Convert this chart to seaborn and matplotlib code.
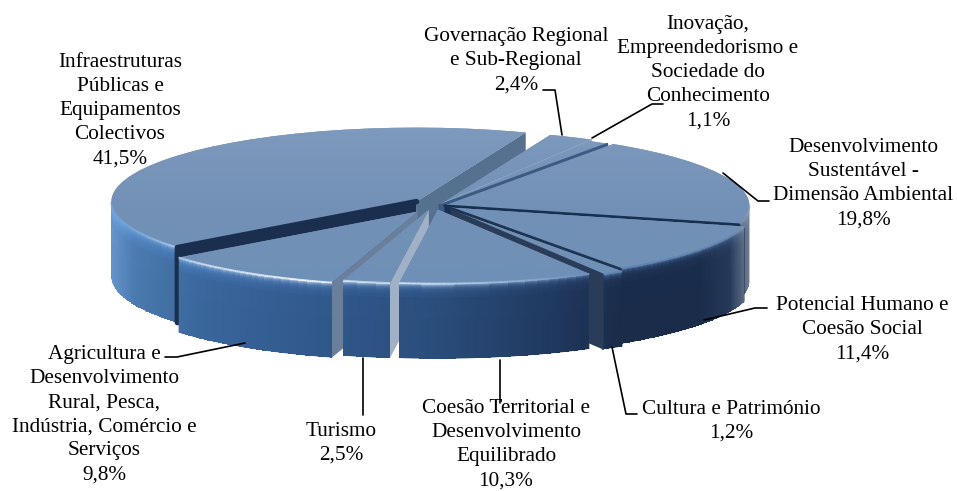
import numpy as np
import seaborn as sns
import matplotlib.pyplot as plt
from matplotlib.colors import to_rgb
from matplotlib.collections import LineCollection
from matplotlib.lines import Line2D

# valores do grafico (sentido horario a partir do topo)
categorias = ['Governação Regional\ne Sub-Regional\n2,4%',
              'Inovação,\nEmpreendedorismo e\nSociedade do\nConhecimento\n1,1%',
              'Desenvolvimento\nSustentável -\nDimensão Ambiental\n19,8%',
              'Potencial Humano e\nCoesão Social\n11,4%',
              'Cultura e Património\n1,2%',
              'Coesão Territorial e\nDesenvolvimento\nEquilibrado\n10,3%',
              'Turismo\n2,5%',
              'Agricultura e\nDesenvolvimento\nRural, Pesca,\nIndústria, Comércio e\nServiços\n9,8%',
              'Infraestruturas\nPúblicas e\nEquipamentos\nColectivos\n41,5%']
valores = [2.4, 1.1, 19.8, 11.4, 1.2, 10.3, 2.5, 9.8, 41.5]
destaque = [0.03, 0.01, 0.012, 0.035, 0.065, 0.05, 0.05, 0.09, 0.10]

W, H = 957, 491
cx, cy, rx, ry = 441, 206, 305, 74
prof = 75 / ry

sns.set_theme(style='white')
plt.rcParams['font.family'] = ['Liberation Serif', 'DejaVu Sans']

fig = plt.figure(figsize=(W / 100, H / 100), dpi=100, facecolor='white')
ax = fig.add_axes([0, 0, 1, 1])

wedges, _ = ax.pie(valores, explode=destaque, startangle=69, counterclock=False,
                   colors=['#7593b8'] * len(valores), wedgeprops={'linewidth': 0})

# pequenos acertos horizontais das fatias
for i, dx in [(0, -4), (1, -4), (5, -6), (6, -9), (7, -8)]:
    x0, y0 = wedges[i].center
    wedges[i].set_center((x0 + dx / rx, y0))

# cor da parede lateral conforme a posicao horizontal
px_stops = [105, 135, 200, 300, 430, 550, 620, 700, 730, 745, 755]
base_stops = ['#6a9ad0', '#4a7aae', '#3a669c', '#325a8e', '#2a4e7c', '#20395f',
              '#1a2c4a', '#1a2c4a', '#26395a', '#5d6e85', '#8391a5']
luz_stops = ['#6f9fd6', '#7aa6d8', '#c5daef', '#eef4fa', '#c3d8ee', '#7d9fc8',
             '#5f84b2', '#5f84b2', '#6484ac', '#8494a8', '#a4b0c0']
base_rgb = np.array([to_rgb(c) for c in base_stops])
luz_rgb = np.array([to_rgb(c) for c in luz_stops])


def cor_lateral(px, rgb):
    return np.stack([np.interp(px, px_stops, rgb[:, k]) for k in range(3)], axis=-1)


def parede(w, z):
    t1, t2 = max(w.theta1, -180), min(w.theta2, 0)
    if t2 <= t1:
        return
    th = np.radians(np.linspace(t1, t2, 80))
    d = np.concatenate([np.linspace(0, 12 / ry, 13), np.linspace(14 / ry, prof, 4)])
    X = w.center[0] + w.r * np.cos(th)[:, None] * np.ones((1, len(d)))
    Y = w.center[1] + w.r * np.sin(th)[:, None] - d[None, :]
    xm = 0.5 * (X[:-1, :-1] + X[1:, :-1]) * rx + cx
    dm = 0.5 * (d[:-1] + d[1:]) * ry
    k = np.exp(-dm / 2.2)[None, :, None]
    brilho = 1 + 0.22 * np.exp(-dm / 8)[None, :, None]
    C = np.clip(cor_lateral(xm, base_rgb) * brilho, 0, 1) * (1 - k) + cor_lateral(xm, luz_rgb) * k
    # contorno suave por baixo, malha sem antialias por cima
    ax.fill(np.r_[X[:, 0], X[::-1, -1]], np.r_[Y[:, 0], Y[::-1, -1]],
            color=C[C.shape[0] // 2, -1], lw=0, zorder=z)
    ax.pcolormesh(X, Y, C, shading='flat', zorder=z, edgecolors='none', antialiased=False)
    # linha de brilho na aresta
    xa, ya = X[:, 0], Y[:, 0]
    seg = np.stack([np.c_[xa[:-1], ya[:-1]], np.c_[xa[1:], ya[1:]]], axis=1)
    ax.add_collection(LineCollection(seg, colors=cor_lateral(xm[:, 0], luz_rgb), linewidths=1.3,
                                     zorder=z + 4), autolim=False)


def corte(w, ang, cor, z, esp):
    a = np.radians(ang)
    x0, y0 = w.center
    x1, y1 = x0 + w.r * np.cos(a), y0 + w.r * np.sin(a)
    ax.fill([x0, x1, x1, x0], [y0, y1, y1 - prof, y0 - prof], color=cor, lw=0, zorder=z)
    if esp:
        ax.plot([x0, x1, x1], [y0, y1, y1 - prof], color=cor, lw=esp, zorder=z + 3.5,
                solid_joinstyle='round')


# faces de corte visiveis: (indice, lado, cor, espessura do traco)
cortes = [(8, 't1', '#56718f', 0), (8, 't2', '#1a2e4e', 4), (0, 't1', '#9db0c8', 0.5),
          (1, 't1', '#3c5a82', 1.2), (2, 't1', '#17304f', 1.8), (3, 't1', '#1d3453', 1.5),
          (4, 't1', '#2a3c58', 1.2), (7, 't2', '#6a7f9c', 0), (6, 't2', '#a0b1c7', 0)]
ordem = [8, 0, 1, 2, 3, 4, 7, 6, 5]
grad = np.array(sns.blend_palette(['#6f90b6', '#7390b6', '#7e9abd'], n_colors=128))[:, None, :]

for pos, i in enumerate(ordem):
    w = wedges[i]
    z = 10 + pos * 5
    parede(w, z)
    for j, lado, cor, esp in cortes:
        if j == i:
            corte(w, w.theta1 if lado == 't1' else w.theta2, cor, z + 1, esp)
    w.set_zorder(z + 2)
    im = ax.imshow(grad, extent=(-1.3, 1.3, -1.1, 1.1), origin='lower', aspect='auto',
                   zorder=z + 3)
    im.set_clip_path(w)

ax.set_aspect('auto')
ax.set_xlim((0 - cx) / rx, (W - cx) / rx)
ax.set_ylim((cy - H) / ry, cy / ry)
ax.axis('off')


def rotulo(x, y, txt):
    fig.text(x / W, 1 - y / H, txt, ha='center', va='top', fontsize=15.3,
             linespacing=1.36, color='black', zorder=110)


def guia(xs, ys):
    fig.add_artist(Line2D(np.array(xs) / W, 1 - np.array(ys) / H, color='black', lw=1.2,
                          transform=fig.transFigure, zorder=100))


posicoes = [(516, 27), (708, 15), (863, 138), (862, 296), (731, 400), (506, 399),
            (341, 422), (104, 345), (120, 53)]
for (x, y), txt in zip(posicoes, categorias):
    rotulo(x, y, txt)

guia([562, 555, 543], [135, 90, 90])
guia([592, 652, 663], [138, 104, 104])
guia([723, 758, 769], [173, 201, 201])
guia([704, 755, 767], [320, 308, 308])
guia([612, 626, 637], [347, 414, 414])
guia([500, 500], [360, 403])
guia([363, 363], [358, 415])
guia([245, 177, 165], [343, 357, 357])

plt.savefig('out.png', dpi=100)
